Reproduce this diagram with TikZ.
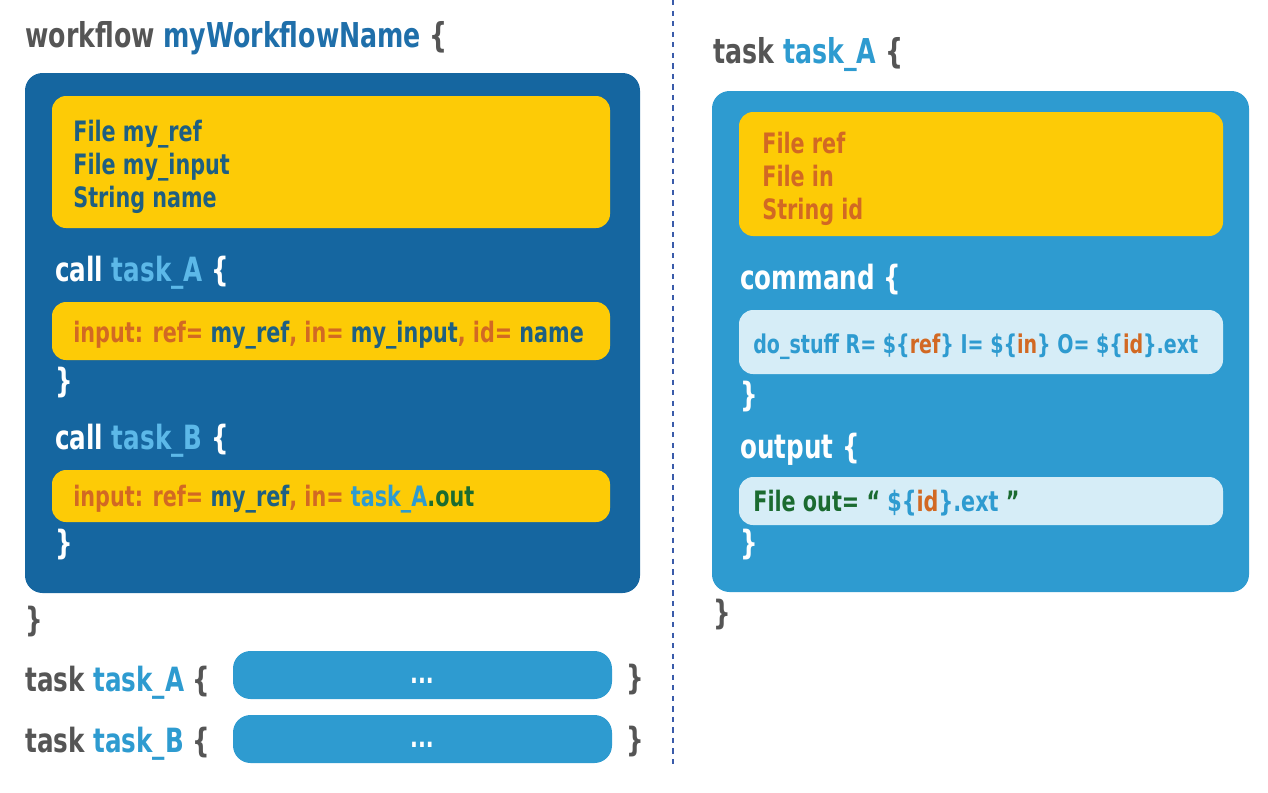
\documentclass[tikz,border=0pt]{standalone}
\usepackage{fontspec}
\setmainfont{DejaVu Sans Condensed}[FakeStretch=0.82]
\usepackage{xcolor}
\usepackage{tikz}

\definecolor{wfdark}{RGB}{21,102,160}
\definecolor{taskblue}{RGB}{46,155,208}
\definecolor{slotyellow}{RGB}{253,203,6}
\definecolor{slotlight}{RGB}{214,237,247}
\definecolor{kwgrey}{RGB}{85,85,85}
\definecolor{namedark}{RGB}{31,111,170}
\definecolor{namelight}{RGB}{92,184,232}
\definecolor{vardark}{RGB}{30,95,130}
\definecolor{keyorange}{RGB}{210,105,35}
\definecolor{outgreen}{RGB}{27,107,48}
\definecolor{divblue}{RGB}{58,91,170}

\begin{document}
\begin{tikzpicture}[x=0.02cm, y=-0.02cm,
    code/.style={anchor=base west, inner sep=0pt, font=\bfseries\fontsize{16}{18.7}\selectfont},
    head/.style={anchor=base west, inner sep=0pt, font=\bfseries\fontsize{19.5}{23}\selectfont},
    sub/.style={anchor=base west, inner sep=0pt, font=\bfseries\fontsize{19}{22}\selectfont},
    slot/.style={rounded corners=8pt}]
    \useasboundingbox (0,0) rectangle (1268,792);

    % divider
    \coordinate (divtop) at (673,0);
    \coordinate (divbot) at (673,765);
    \draw[divblue, dashed, line width=0.6pt] (divtop) -- (divbot);

    % workflow side
    \node[head, text=kwgrey] (wfhead) at (25,47)
      {workflow \textcolor{namedark}{myWorkflowName} \{};
    \fill[wfdark, rounded corners=10pt] (25,73) rectangle (640,593);

    \fill[slotyellow, slot] (52,96) rectangle (610,228);
    \node[code, text=vardark, align=left, anchor=north west] (wfdecl) at (73,120)
      {File my\_ref\\File my\_input\\String name};

    \node[sub, text=white] (calla) at (55,281) {call \textcolor{namelight}{task\_A} \{};
    \fill[slotyellow, slot] (52,302) rectangle (610,360);
    \node[code, text=keyorange] (inputa) at (73,342)
      {input: ref= \textcolor{vardark}{my\_ref}, in= \textcolor{vardark}{my\_input}, id= \textcolor{vardark}{name}};
    \node[sub, text=white] (closea) at (55,392) {\}};

    \node[sub, text=white] (callb) at (55,449) {call \textcolor{namelight}{task\_B} \{};
    \fill[slotyellow, slot] (52,470) rectangle (610,522);
    \node[code, text=keyorange] (inputb) at (73,506)
      {input: ref= \textcolor{vardark}{my\_ref}, in= \textcolor{taskblue}{task\_A}\textcolor{outgreen}{.out}};
    \node[sub, text=white] (closeb) at (55,554) {\}};

    \node[sub, text=kwgrey] (wfclose) at (25,631) {\}};

    % task stubs
    \node[sub, text=kwgrey] (stubahead) at (25,691) {task \textcolor{taskblue}{task\_A} \{};
    \fill[taskblue, rounded corners=10pt] (233,651) rectangle (612,699);
    \node[code, text=white, anchor=base] (stubadots) at (422,683) {...};
    \node[sub, text=kwgrey] (stubaclose) at (626,689) {\}};

    \node[sub, text=kwgrey] (stubbhead) at (25,752) {task \textcolor{taskblue}{task\_B} \{};
    \fill[taskblue, rounded corners=10pt] (233,715) rectangle (612,763);
    \node[code, text=white, anchor=base] (stubbdots) at (422,747) {...};
    \node[sub, text=kwgrey] (stubbclose) at (626,751) {\}};

    % task side
    \node[head, text=kwgrey] (taskhead) at (713,63) {task \textcolor{taskblue}{task\_A} \{};
    \fill[taskblue, rounded corners=10pt] (712,91) rectangle (1249,592);

    \fill[slotyellow, slot] (739,112) rectangle (1223,236);
    \node[code, text=keyorange, align=left, anchor=north west] (taskdecl) at (762,132)
      {File ref\\File in\\String id};

    \node[sub, text=white] (cmdhead) at (740,289) {command \{};
    \fill[slotlight, slot] (739,310) rectangle (1223,374);
    \node[code, text=taskblue, font=\bfseries\fontsize{14.7}{17}\selectfont] (cmdline) at (753,353)
      {do\_stuff R= \$\{\textcolor{keyorange}{ref}\} I= \$\{\textcolor{keyorange}{in}\} O= \$\{\textcolor{keyorange}{id}\}.ext};
    \node[sub, text=white] (cmdclose) at (740,406) {\}};

    \node[sub, text=white] (outhead) at (740,458) {output \{};
    \fill[slotlight, slot] (739,477) rectangle (1223,525);
    \node[code, text=outgreen] (outline) at (753,511)
      {File out= “ \textcolor{taskblue}{\$\{\textcolor{keyorange}{id}\}.ext} ”};
    \node[sub, text=white] (outclose) at (740,554) {\}};

    \node[sub, text=kwgrey] (taskclose) at (713,624) {\}};
  \end{tikzpicture}
\end{document}
